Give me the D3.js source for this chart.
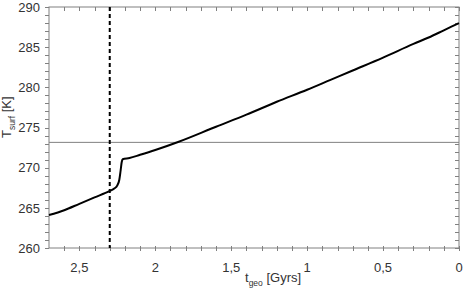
<!DOCTYPE html>
<html>
<head>
<meta charset="utf-8">
<script src="https://cdn.jsdelivr.net/npm/d3@7"></script>
<style>
  body { margin: 0; background: #fff; }
  text { font-family: "Liberation Sans", Arial, sans-serif; fill: #333; }
</style>
</head>
<body>
<div id="chart"></div>
<script>
var width = 463, height = 288;
var margin = {top: 7, left: 49, right: 4, bottom: 40};

// data: time before present [Gyrs] and surface temperature [K]
var tGeo = [2.7, 2.6, 2.5, 2.4, 2.3, 2.27, 2.25, 2.237, 2.228, 2.221, 2.215, 2.17, 2.1, 2.0,
            1.85, 1.6, 1.4, 1.2, 1.0, 0.85, 0.7, 0.5, 0.3, 0.2, 0.1, 0];
var tSurf = [264.1, 264.7, 265.5, 266.3, 267.1, 267.4, 267.8, 268.5, 269.7, 270.7, 271.05, 271.2, 271.6, 272.2,
             273.2, 275.1, 276.6, 278.2, 279.7, 280.9, 282.1, 283.7, 285.4, 286.2, 287.1, 288.0];
var xTicks = [2.5, 2, 1.5, 1, 0.5, 0];
var yTicks = [260, 265, 270, 275, 280, 285, 290];
var freezing = 273.15;
var marker = 2.3;

var svg = d3.select("#chart").append("svg")
    .attr("width", width)
    .attr("height", height);

var xScale = d3.scaleLinear().domain([2.7, 0]).range([margin.left, width - margin.right]);
var yScale = d3.scaleLinear().domain([260, 290]).range([height - margin.bottom, margin.top]);

var x0 = xScale.range()[0], x1 = xScale.range()[1];
var y0 = yScale.range()[0], y1 = yScale.range()[1];

var minorX = d3.range(27).map(function(i) { return i / 10; });
var minorY = d3.range(260, 291, 1);

// frame
svg.append("rect")
    .attr("x", x0).attr("y", y1)
    .attr("width", x1 - x0).attr("height", y0 - y1)
    .attr("fill", "none").attr("stroke", "#808080").attr("stroke-width", 1);

// ticks: left outward, bottom crossing, top and right inward
var ticks = svg.append("g").attr("stroke", "#808080").attr("stroke-width", 1);
minorY.forEach(function(v) {
    var y = Math.round(yScale(v)) + 0.5;
    ticks.append("line").attr("x1", x0 - 4).attr("x2", x0).attr("y1", y).attr("y2", y);
    ticks.append("line").attr("x1", x1 - 4).attr("x2", x1).attr("y1", y).attr("y2", y);
});
minorX.forEach(function(v) {
    var x = Math.round(xScale(v)) + 0.5;
    ticks.append("line").attr("x1", x).attr("x2", x).attr("y1", y0 - 2).attr("y2", y0 + 3);
    ticks.append("line").attr("x1", x).attr("x2", x).attr("y1", y1).attr("y2", y1 + 4);
});

// tick labels
svg.append("g").selectAll("text")
    .data(yTicks).enter().append("text")
    .attr("x", x0 - 9)
    .attr("y", function(d) { return yScale(d); })
    .attr("dy", "0.36em")
    .attr("text-anchor", "end")
    .attr("font-size", 13)
    .text(function(d) { return d; });

svg.append("g").selectAll("text")
    .data(xTicks).enter().append("text")
    .attr("x", function(d) { return xScale(d); })
    .attr("y", 272)
    .attr("text-anchor", "middle")
    .attr("font-size", 13)
    .text(function(d) { return String(d).replace(".", ","); });

// freezing point line
svg.append("line")
    .attr("x1", x0).attr("x2", x1)
    .attr("y1", yScale(freezing)).attr("y2", yScale(freezing))
    .attr("stroke", "#808080").attr("stroke-width", 1);

// dashed marker
svg.append("line")
    .attr("x1", xScale(marker)).attr("x2", xScale(marker))
    .attr("y1", y1).attr("y2", y0)
    .attr("stroke", "#000").attr("stroke-width", 2)
    .attr("stroke-dasharray", "4,3");

// temperature curve
var line = d3.line()
    .x(function(d, i) { return xScale(tGeo[i]); })
    .y(function(d) { return yScale(d); })
    .curve(d3.curveMonotoneX);

svg.append("path")
    .datum(tSurf)
    .attr("d", line)
    .attr("fill", "none")
    .attr("stroke", "#000")
    .attr("stroke-width", 2);

// axis titles
var xt = svg.append("text")
    .attr("x", 245).attr("y", 282)
    .attr("font-size", 13);
xt.append("tspan").text("t");
xt.append("tspan").attr("font-size", 8.5).attr("dy", 4).text("geo");
xt.append("tspan").attr("dy", -4).text(" [Gyrs]");

var yt = svg.append("text")
    .attr("transform", "translate(11,138) rotate(-90)")
    .attr("font-size", 13);
yt.append("tspan").text("T");
yt.append("tspan").attr("font-size", 8.5).attr("dy", 4).text("surf");
yt.append("tspan").attr("dy", -4).text(" [K]");
</script>
</body>
</html>
